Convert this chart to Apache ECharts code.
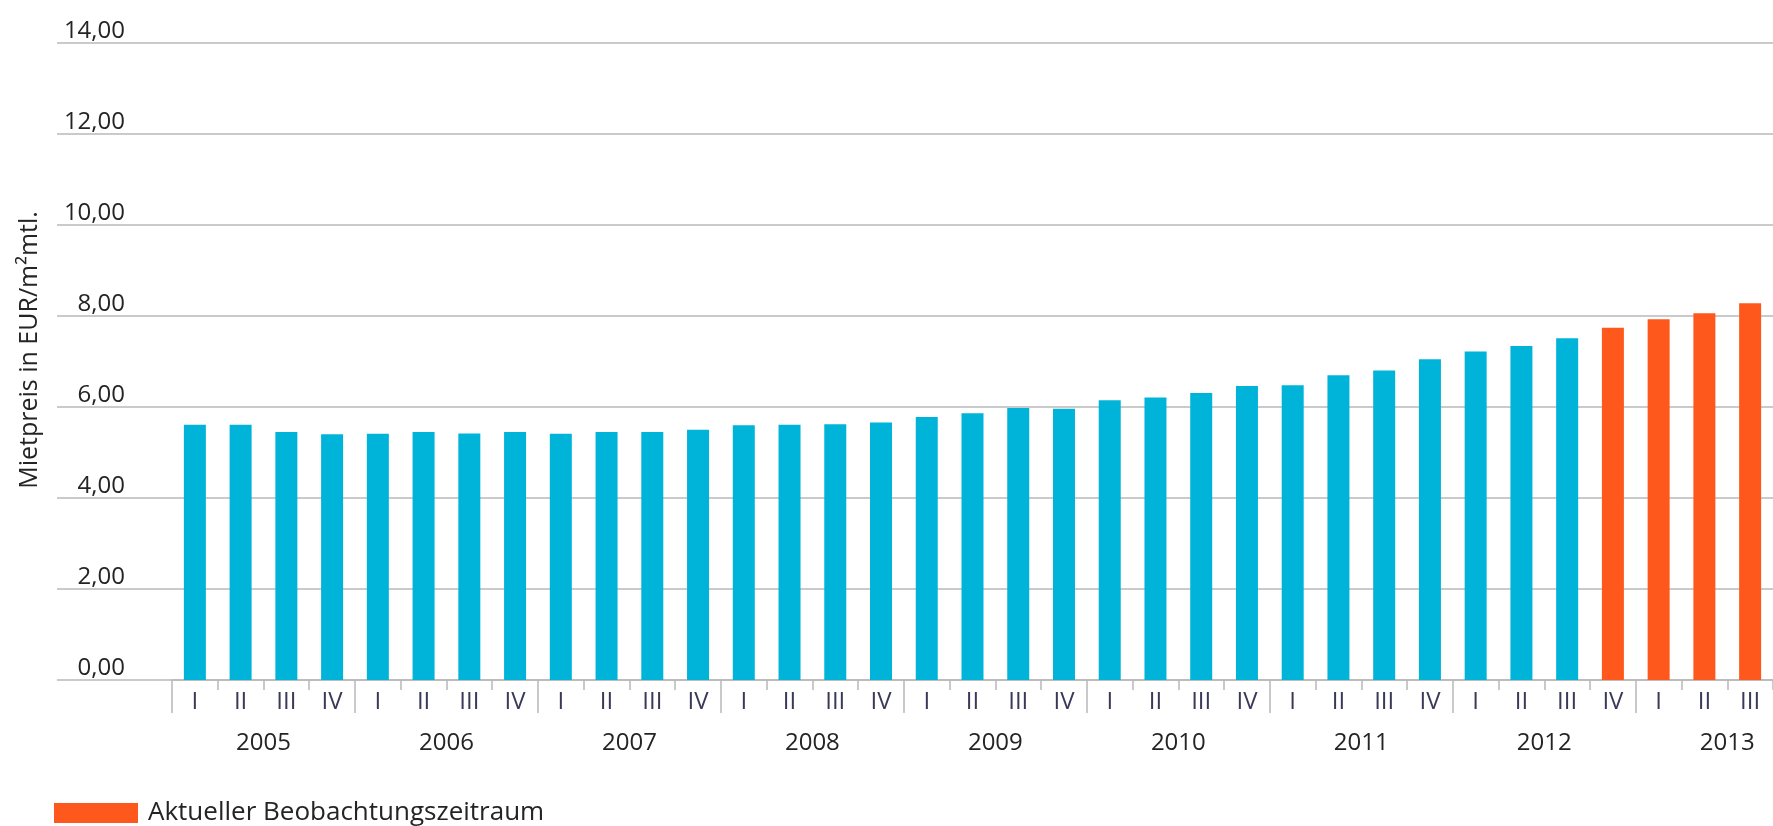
<!DOCTYPE html>
<html>
<head>
<meta charset="utf-8">
<script src="https://cdn.jsdelivr.net/npm/echarts@6/dist/echarts.min.js"></script>
<style>html,body{margin:0;padding:0;background:#fff}#c{width:1773px;height:826px}</style>
</head>
<body>
<div id="c"></div>
<script>
// ---- data ----
const years = ['2005','2006','2007','2008','2009','2010','2011','2012','2013'];
const quarters = ['I','II','III','IV','I','II','III','IV','I','II','III','IV','I','II','III','IV','I','II','III','IV','I','II','III','IV','I','II','III','IV','I','II','III','IV','I','II','III'];
const rents = [5.61,5.61,5.45,5.40, 5.41,5.45,5.42,5.45, 5.41,5.45,5.45,5.50, 5.60,5.61,5.62,5.66, 5.78,5.86,5.98,5.96, 6.15,6.21,6.31,6.46, 6.48,6.70,6.80,7.05, 7.22,7.34,7.51,7.74, 7.93,8.06,8.28];
const currentFlag = [0,0,0,0, 0,0,0,0, 0,0,0,0, 0,0,0,0, 0,0,0,0, 0,0,0,0, 0,0,0,0, 0,0,0,1, 1,1,1];
const yTicks = [0,2,4,6,8,10,12,14];
const yTitle = 'Mietpreis in EUR/m\u00B2mtl.';
const legendLabel = 'Aktueller Beobachtungszeitraum';

// ---- derived ----
const histData = rents.map((v,i)=> currentFlag[i] ? '-' : v);
const curData = rents.map((v,i)=> currentFlag[i] ? v : '-');
const boundaryCats = [];
for (let i=0;i<=quarters.length;i++){ boundaryCats.push(i%4===2 ? years[Math.floor(i/4)] : ''); }
const fmt = v => v.toFixed(2).replace('.', ',');

const FONT = 'Open Sans';
const FW = 500;
const GRID_COL = '#b8b8b8';
const TXT = '#242424';

const chart = echarts.init(document.getElementById('c'), null, {renderer:'canvas'});
chart.setOption({
  animation:false,
  backgroundColor:'#fff',
  textStyle:{fontFamily:FONT},
  grid:[
    {left:57, right:0, top:43, bottom:146, outerBoundsMode:'none', containLabel:false},
    {left:172, right:0, top:43, bottom:146, outerBoundsMode:'none', containLabel:false}
  ],
  legend:{
    data:[legendLabel], left:54, top:800, padding:0, itemWidth:84, itemHeight:20, icon:'rect',
    textStyle:{fontFamily:FONT, fontWeight:FW, fontSize:26, color:TXT, padding:[2,0,0,5]}
  },
  graphic:[{
    type:'text', x:30, y:350, rotation:Math.PI/2,
    style:{text:yTitle, font:FW + ' 25px "Open Sans"', fill:TXT, textAlign:'center', textVerticalAlign:'middle'}
  }],
  xAxis:[
    {type:'value', gridIndex:0, show:false, min:0, max:1},
    {type:'category', gridIndex:1, position:'bottom', data:quarters, boundaryGap:true,
      axisLine:{show:true, lineStyle:{color:GRID_COL, width:1.5}},
      axisTick:{show:true, length:10, lineStyle:{color:GRID_COL, width:1.5}},
      axisLabel:{interval:0, margin:10, fontSize:24, fontWeight:FW, color:'#3a3a58', fontFamily:FONT}
    },
    {type:'category', gridIndex:1, position:'bottom', offset:0, data:boundaryCats, boundaryGap:false,
      axisLine:{show:false},
      axisTick:{show:true, length:33, interval:(i)=> i%4===0, lineStyle:{color:GRID_COL, width:1.5}},
      axisLabel:{interval:(i)=> i%4===2, margin:51, fontSize:24, fontWeight:FW, color:TXT, fontFamily:FONT}
    }
  ],
  yAxis:[
    {type:'value', gridIndex:0, min:0, max:14, interval:2,
      axisLine:{show:false}, axisTick:{show:false},
      splitLine:{show:true, lineStyle:{color:GRID_COL, width:1.5}},
      axisLabel:{inside:true, margin:68, align:'right', verticalAlign:'bottom', padding:0,
        fontSize:24, fontWeight:FW, color:TXT, fontFamily:FONT, formatter:(v)=> yTicks.includes(v) ? fmt(v) : ''}
    },
    {type:'value', gridIndex:1, min:0, max:14, interval:2, show:false, splitLine:{show:false}}
  ],
  series:[
    {name:'Mietpreis', type:'bar', xAxisIndex:1, yAxisIndex:1, data:histData, barWidth:22, barGap:'-100%',
      itemStyle:{color:'#00B4D9'}},
    {name:legendLabel, type:'bar', xAxisIndex:1, yAxisIndex:1, data:curData, barWidth:22, barGap:'-100%',
      itemStyle:{color:'#FF581C'}}
  ]
});
</script>
</body>
</html>
